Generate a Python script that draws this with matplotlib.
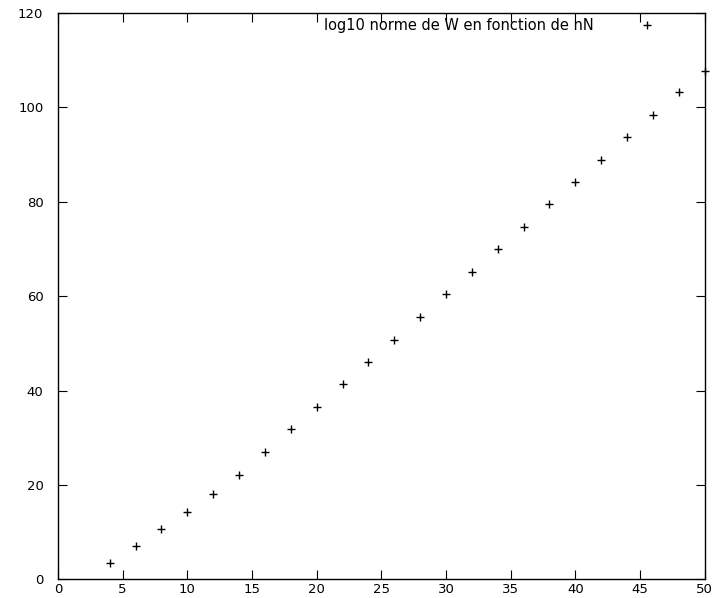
import numpy as np
import matplotlib.pyplot as plt

plt.rcParams['font.family'] = ['DejaVu Sans']

# nN values and log10 of the norm of W
nN = [4, 6, 8, 10, 12, 14, 16, 18, 20, 22, 24, 26, 28,
      30, 32, 34, 36, 38, 40, 42, 44, 46, 48, 50]
log_norm_W = [3.4, 7.1, 10.7, 14.3, 18.1, 22.2, 27.0, 31.8, 36.5, 41.3, 46.0, 50.8, 55.6,
              60.4, 65.1, 69.9, 74.7, 79.5, 84.2, 88.9, 93.7, 98.4, 103.2, 107.8]

fig = plt.figure(figsize=(7.15, 5.98), dpi=100)
ax = fig.add_axes([0.0811, 0.0313, 0.9045, 0.947])

ax.plot(nN, log_norm_W, linestyle='none', marker='+', color='black',
        markersize=6, markeredgewidth=1.0, clip_on=False,
        label='log10 norme de W en fonction de nN')

ax.set_xlim(0, 50)
ax.set_ylim(0, 120)
ax.set_xticks(np.arange(0, 51, 5))
ax.set_yticks(np.arange(0, 121, 20))

ax.tick_params(direction='in', length=6.5, width=0.8, top=True, right=True,
               labelsize=9.5)
ax.tick_params(axis='x', pad=3)
ax.tick_params(axis='y', pad=10.5)
for s in ax.spines.values():
    s.set_linewidth(1.0)

ax.legend(loc='upper right', bbox_to_anchor=(0.953, 1.014), frameon=False,
          markerfirst=False, fontsize=10.5, handlelength=2, handletextpad=2.6)

fig.savefig('out.png', dpi=100)
